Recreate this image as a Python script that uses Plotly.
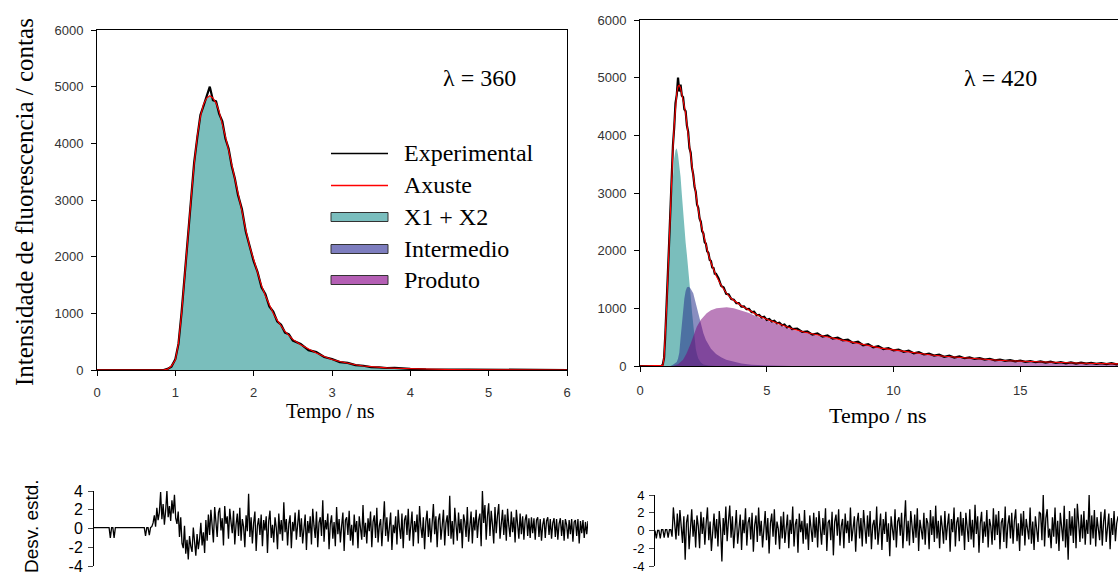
import plotly.graph_objects as go

W, H = 1118, 574

# ---------------- lambda = 360 nm decay ----------------
t360 = [0, 0.85, 0.90, 0.95, 1.00, 1.04, 1.08, 1.12, 1.16, 1.20, 1.24, 1.28, 1.32, 1.36,
        1.40, 1.44, 1.48, 1.52, 1.56, 1.60, 1.64, 1.68, 1.72, 1.76, 1.80, 1.85, 1.90,
        1.95, 2.00, 2.05, 2.10, 2.15, 2.20, 2.25, 2.30, 2.35, 2.40, 2.45, 2.50, 2.60,
        2.70, 2.80, 2.90, 3.00, 3.10, 3.20, 3.30, 3.40, 3.50, 3.60, 3.70, 3.80, 3.90,
        4.00, 4.20, 4.50, 5.00, 6.00]
fit360 = [0, 0, 15, 70, 175, 475, 1000, 1710, 2300, 3010, 3630, 4130, 4470, 4690,
          4800, 4840, 4800, 4710, 4560, 4360, 4120, 3880, 3640, 3350, 3130, 2810, 2470,
          2175, 1950, 1700, 1490, 1310, 1150, 1000, 880, 780, 680, 610, 540, 445,
          365, 300, 240, 185, 150, 118, 92, 70, 55, 45, 38, 32, 27,
          22, 15, 8, 3, 0]
exp360 = [0, 0, 20, 60, 190, 460, 1020, 1690, 2330, 2980, 3660, 4100, 4500, 4660,
          4830, 5000, 4760, 4740, 4520, 4390, 4080, 3910, 3600, 3380, 3090, 2840, 2440,
          2200, 1920, 1730, 1460, 1340, 1120, 1030, 860, 800, 660, 630, 520, 460,
          350, 315, 230, 195, 140, 125, 85, 75, 50, 48, 35, 36, 24,
          20, 12, 8, 2, 0]
x12_360 = [0, 0, 15, 70, 175, 475, 1000, 1710, 2300, 3010, 3630, 4130, 4470, 4690,
           4800, 4840, 4800, 4710, 4560, 4360, 4120, 3880, 3640, 3350, 3130, 2810, 2470,
           2175, 1950, 1700, 1490, 1310, 1150, 1000, 880, 780, 680, 610, 540, 445,
           365, 300, 240, 185, 150, 118, 92, 70, 55, 45, 38, 32, 27,
           22, 15, 8, 3, 0]
tc360 = [0, 6]
inter360 = [0, 0]
prod360 = [0, 0]

# ---------------- lambda = 420 nm decay ----------------
t420 = [0, 0.85, 0.90, 0.95, 1.00, 1.05, 1.10, 1.15, 1.20, 1.25, 1.30, 1.35, 1.40, 1.45,
        1.50, 1.55, 1.60, 1.65, 1.70, 1.75, 1.80, 1.85, 1.90, 1.95, 2.00, 2.10, 2.20,
        2.30, 2.40, 2.50, 2.60, 2.70, 2.80, 2.90, 3.00, 3.20, 3.40, 3.60, 3.80, 4.00,
        4.30, 4.60, 5.00, 5.50, 6.00, 6.50, 7.00, 7.50, 8.00, 8.50, 9.00, 9.50, 10.00,
        10.50, 11.00, 11.50, 12.00, 12.50, 13.00, 13.50, 14.00, 14.50, 15.00, 15.50,
        16.00, 16.50, 17.00, 17.50, 18.00, 18.50, 19.00]
fit420 = [0, 0, 10, 150, 520, 1030, 1580, 2180, 2760, 3300, 3780, 4180, 4500, 4730,
          4850, 4870, 4820, 4730, 4620, 4500, 4380, 4220, 4010, 3830, 3650, 3300, 2980,
          2700, 2470, 2270, 2090, 1930, 1790, 1670, 1570, 1400, 1270, 1170, 1100, 1045,
          970, 890, 810, 730, 645, 585, 540, 495, 450, 400, 350, 310, 280,
          248, 220, 192, 168, 150, 136, 120, 105, 92, 83, 74,
          66, 59, 53, 48, 43, 39, 35]

texp420 = [0, 0.85, 0.90, 0.95, 1.00, 1.05, 1.10, 1.15, 1.20, 1.25, 1.30, 1.35, 1.40,
           1.45, 1.50, 1.55, 1.60, 1.65, 1.70, 1.75, 1.80, 1.85, 1.90, 1.95, 2.00, 2.05,
           2.10, 2.15, 2.20, 2.25, 2.30, 2.35, 2.40, 2.45, 2.50, 2.55, 2.60, 2.65, 2.70,
           2.75, 2.80, 2.85, 2.90, 2.95, 3.00,
           3.1, 3.2, 3.3, 3.4, 3.5, 3.6, 3.7, 3.8, 3.9, 4.0, 4.1, 4.2, 4.3, 4.4, 4.5,
           4.6, 4.7, 4.8, 4.9, 5.0, 5.1, 5.2, 5.3, 5.4, 5.5, 5.6, 5.7, 5.8, 5.9, 6.0,
           6.2, 6.4, 6.6, 6.8, 7.0, 7.2, 7.4, 7.6, 7.8, 8.0, 8.2, 8.4, 8.6, 8.8, 9.0,
           9.2, 9.4, 9.6, 9.8, 10.0, 10.2, 10.4, 10.6, 10.8, 11.0, 11.2, 11.4, 11.6,
           11.8, 12.0, 12.2, 12.4, 12.6, 12.8, 13.0, 13.2, 13.4, 13.6, 13.8, 14.0,
           14.2, 14.4, 14.6, 14.8, 15.0, 15.2, 15.4, 15.6, 15.8, 16.0, 16.2, 16.4,
           16.6, 16.8, 17.0, 17.2, 17.4, 17.6, 17.8, 18.0, 18.2, 18.4, 18.6, 18.8, 19.0]
exp420 = [0, 0, 25, 140, 560, 1000, 1620, 2150, 2790, 3270, 3830, 4140, 4560,
          4700, 5000, 4760, 4880, 4690, 4660, 4450, 4420, 4170, 4060, 3780, 3700, 3440,
          3320, 3110, 3020, 2800, 2740, 2560, 2500, 2340, 2300, 2150, 2120, 1990, 1960,
          1840, 1820, 1710, 1700, 1600, 1600,
          1520, 1390, 1360, 1250, 1240, 1160, 1150, 1090, 1090, 1030, 1035, 985, 990, 935, 940,
          880, 885, 840, 855, 800, 815, 770, 785, 740, 750, 705, 720, 670, 690, 640,
          650, 590, 600, 545, 565, 510, 530, 475, 490, 445, 455, 400, 420, 360, 380,
          325, 345, 295, 310, 270, 285, 245, 265, 220, 240, 200, 215, 180,
          195, 160, 178, 145, 165, 135, 150, 122, 135, 110, 125, 98,
          112, 88, 102, 80, 95, 72, 86, 65, 80, 58, 74, 52,
          68, 47, 62, 43, 58, 40, 54, 36, 51, 33, 48, 30, 45]

tx12_420 = [0, 0.90, 0.95, 1.00, 1.05, 1.10, 1.15, 1.20, 1.25, 1.30, 1.35, 1.40, 1.45,
            1.50, 1.55, 1.60, 1.65, 1.70, 1.75, 1.80, 1.85, 1.90, 1.95, 2.00, 2.05,
            2.10, 2.15, 2.20, 2.25, 2.30, 2.40, 2.50, 2.70, 3.00, 19.0]
x12_420 = [0, 0, 40, 250, 680, 1500, 2150, 2620, 3000, 3350, 3600, 3740, 3775,
           3660, 3480, 3280, 2980, 2650, 2370, 2140, 1930, 1720, 1500, 1210, 940,
           680, 460, 300, 200, 130, 60, 25, 8, 0, 0]

tint420 = [0, 1.20, 1.30, 1.40, 1.45, 1.50, 1.55, 1.60, 1.65, 1.70, 1.75, 1.80, 1.85,
           1.90, 1.95, 2.00, 2.05, 2.10, 2.20, 2.30, 2.40, 2.50, 2.60, 2.70, 2.80,
           3.00, 3.20, 3.40, 3.70, 4.00, 4.40, 5.00, 6.00, 19.0]
inter420 = [0, 0, 20, 50, 70, 130, 230, 480, 760, 1000, 1170, 1300, 1360,
            1375, 1365, 1340, 1300, 1260, 1090, 914, 740, 570, 450, 370, 300,
            210, 150, 110, 72, 45, 20, 8, 0, 0]

tprod420 = [0, 1.30, 1.50, 1.70, 1.84, 2.00, 2.24, 2.40, 2.63, 2.80, 3.02, 3.20, 3.42,
            3.70, 3.94, 4.30, 4.60, 5.00, 5.50, 6.00, 6.50, 7.00, 7.50, 8.00, 8.50,
            9.00, 9.50, 10.0, 10.5, 11.0, 11.5, 12.0, 12.5, 13.0, 13.5, 14.0, 14.5,
            15.0, 15.5, 16.0, 16.5, 17.0, 17.5, 18.0, 18.5, 19.0]
prod420 = [0, 0, 30, 110, 220, 390, 680, 800, 914, 965, 1000, 1013, 1018,
           1000, 970, 920, 860, 790, 712, 635, 575, 528, 485, 442, 393,
           344, 305, 275, 244, 216, 189, 165, 147, 133, 117, 103, 90,
           81, 72, 64, 57, 51, 46, 41, 37, 33]

# ---------------- weighted residuals (one value per channel) ----------------
res360 = [
    0.1, 0.1, 0.1, 0.1, 0.1, 0.1, 0.1, 0.1, 0.1, 0.1, 0.1, 0.1, 0.1, -1.0, 0.1, 0.1, -1.0, 0.1, 0.1, 0.1,
    0.1, 0.1, 0.1, 0.1, 0.1, 0.1, 0.1, 0.1, 0.1, 0.1, 0.1, 0.1, 0.1, 0.1, 0.1, 0.1, 0.1, 0.1, 0.1, 0.1,
    0.1, -0.8, 0.1, 0.1, -0.7, 0.1, 0.2,
    0.6, 1.4, 0.2, 2.2, 0.9, 1.7, 3.9, 1.0, 2.6, 0.4, 1.9, 4.0, 1.2, 2.4, 0.8, 3.0, 1.6, 3.6, 1.1, 0.5,
    1.8, -0.9, 1.2, -1.6, -2.1, 0.3, -2.7, -1.2, -3.3, -0.8, -1.9, -2.5, 0.1, -1.4, -2.9, -0.6, -2.2, -1.1, 0.6, -1.8,
    -0.4, -2.6, 0.9, -1.3, 1.5, -0.7, 2.0, 0.3, -1.5, 2.3, 0.8, -0.9, 1.7, 2.2, -0.2, 1.1, -1.8, 2.4, 0.5, 1.3,
    -1.1, 2.1, 0.7, -0.5, 1.9, -1.7, 0.4, 1.6, -0.8, 2.2, -1.3, 1.0, 0.2, -2.0, 1.4, -0.3, 3.7, -0.9, 1.2, -1.6,
    0.6, 1.8, -2.4, 0.3, 1.1, -0.7, 1.5, -1.9, 0.9, -0.2, 1.3, -2.6, 0.8, 1.9, -1.0, 0.4, -1.5, 1.2, 0.1, -2.2,
    1.6, -0.6, 0.9, -1.3, 2.8, -0.4, 1.0, -1.8, 0.5, 1.4, -2.1, 0.7, -0.3, 1.7, -1.2, 0.2, 2.0, -0.9, 1.1, -1.6,
    0.4, 1.5, -2.3, 0.8, -0.5, 1.3, -1.7, 2.1, 0.3, -1.0, 1.8, -2.0, 0.6, 1.2, -0.8, 3.0, -1.4, 0.9, -0.1, 1.6,
    -2.2, 0.5, 1.4, -1.1, 0.7, -1.9, 2.3, -0.6, 1.0, -1.5, 0.3, 1.7, -2.4, 0.9, 1.2, -0.7, 1.9, -1.3, 0.4, -1.8,
    1.5, -0.4, 0.8, -2.1, 1.3, 0.2, -1.2, 2.5, -0.9, 0.6, -1.6, 1.1, -0.3, 1.8, -2.0, 0.7, 1.4, -1.0, 2.2, -1.5,
    0.3, 1.0, -1.9, 0.5, 2.9, -0.8, 1.2, -1.4, 0.6, 1.7, -2.3, 0.4, -0.5, 1.3, -1.7, 2.0, 0.1, -1.1, 1.6, -2.1,
    0.9, 1.4, -0.7, 2.1, -1.3, 0.5, 1.8, -1.9, 0.8, -0.4, 1.5, -1.6, 2.4, 0.2, -1.0, 1.2, -2.2, 0.7, 1.9, -0.9,
    1.1, -1.5, 0.4, 2.6, -0.6, 1.3, -2.0, 0.9, 1.6, -1.2, 0.3, 2.0, -1.8, 0.6, 1.4, -0.8, 3.5, -1.1, 0.8, -1.7,
    2.2, 0.4, -1.3, 1.7, -0.5, 1.0, -2.1, 1.5, 0.7, -0.9, 2.3, -1.4, 0.5, 1.8, -1.6, 1.2, -0.2, 2.0, -1.0, 0.9,
    1.6, -1.9, 4.0, 0.6, 2.5, -1.2, 1.3, 2.7, -0.8, 1.9, 0.4, -1.6, 2.3, -0.5, 1.4, 2.6, -1.1, 0.8, 2.0, -0.7,
    1.5, -1.3, 2.1, 0.3, -0.9, 1.8, -0.4, 1.2, -1.5, 2.0, 0.6, -1.1, 1.6, -0.6, 1.3, -1.2, 0.9, 1.5, -0.8, 1.1,
    -1.0, 1.2, -0.5, 1.1, -1.2, 0.9, 1.2, -0.9, 1.0, -1.3, 0.4, 1.1, -1.0, 0.8, 1.2, -0.7, 1.0, -1.1, 0.6, 1.1,
    -0.9, 1.0, -1.2, 0.5, 1.1, -0.8, 0.9, -1.3, 1.0, 0.4, -1.1, 0.9, -0.6, 1.0, -1.4, 0.7, 0.9, -0.8, 1.0, -1.6,
    0.8, -0.5, 0.9, -1.0, 0.7, -0.6, 0.8]

res420 = [
    0.0, -0.9, 0.0, 0.0, -0.9, 0.1, 0.1, -0.8, 0.1, 0.1, -0.8, 0.1, 0.1, -0.7,
    2.6, 0.8, -1.0, 1.9, -0.6, 2.3, 0.4, -1.4, 1.6, -3.3, 0.9, 1.8, -2.1, 0.3, 2.4, -0.7, 1.2, -1.9, 1.7, 0.5,
    -2.0, 2.1, -0.4, 1.5, -1.6, 0.8, 2.6, -1.1, 1.0, -2.3, 0.6, 1.9, -0.9, 1.3, -1.8, 2.2, 0.2, -3.5, 1.4, -0.5,
    2.7, -1.2, 1.1, 2.8, -0.8, 1.6, -2.0, 0.7, 2.3, -1.5, 0.4, 1.8, -2.2, 1.2, -0.3, 2.5, -1.7, 0.9, 1.5, -1.0,
    2.0, -2.4, 0.6, 1.7, -1.3, 2.6, -0.6, 1.1, -1.9, 0.3, 2.2, -1.1, 1.4, -2.6, 0.8, 1.9, -0.7, 2.4, -1.6, 1.0,
    0.2, -2.1, 1.6, -0.9, 2.1, -1.4, 0.5, 1.8, -2.0, 1.2, -0.4, 2.7, -1.8, 0.7, 1.3, -2.5, 1.9, -0.2, 1.1, -1.5,
    2.3, -1.0, 0.8, -2.2, 1.7, 0.4, -1.3, 2.0, -0.8, 1.5, -1.9, 2.2, 0.1, -1.6, 1.4, -0.5, 2.5, -2.3, 0.9, 1.2,
    -1.1, 2.1, -2.8, 1.0, 1.8, -0.6, 2.4, -1.7, 0.5, 1.3, -2.0, 1.9, -0.3, 1.1, -1.4, 2.6, -1.2, 0.7, 1.6, -2.4,
    0.9, 2.0, -0.9, 1.4, -1.8, 2.3, 0.3, -1.5, 1.7, -0.7, 2.2, -2.1, 0.6, 1.2, -1.0, 2.7, -1.6, 0.4, 1.9, -2.2,
    1.3, -0.4, 2.1, -1.3, 0.8, -2.9, 1.6, 0.2, -1.1, 2.4, -1.9, 1.0, 1.5, -0.6, 2.0, -2.0, 0.7, 3.4, -1.2, 1.1,
    -1.7, 2.2, 0.5, -1.4, 1.8, -0.8, 2.5, -2.3, 1.2, 0.3, -1.0, 2.0, -1.6, 1.4, 0.8, -2.1, 2.3, -0.5, 1.6, -1.3,
    2.8, -0.9, 1.1, -2.0, 1.7, 0.4, -1.5, 2.2, -1.1, 0.6, 1.9, -2.4, 1.3, -0.2, 2.6, -1.8, 0.9, 1.5, -1.2, 2.1,
    -0.6, 1.4, -2.2, 2.0, 0.7, -1.3, 2.4, -1.0, 1.2, -1.9, 2.9, -0.4, 1.6, -2.5, 0.8, 2.1, -1.4, 1.0, -0.7, 2.3,
    -1.9, 1.3, 0.5, -1.6, 2.5, -1.1, 1.8, -0.5, 2.2, -2.1, 0.9, 1.4, -1.3, 2.7, -2.0, 0.6, 1.7, -0.9, 2.0, -1.5,
    1.1, 2.4, -1.2, 0.8, -2.3, 1.9, -0.6, 2.2, -1.7, 1.3, 0.2, -1.0, 2.6, -1.5, 1.0, -2.2, 1.6, 0.4, -1.3, 2.1,
    1.9, -1.1, 4.0, -1.8, 1.4, 2.4, -0.8, 0.2, -2.0, 1.5, -0.7, 2.6, -1.5, 1.1, -2.3, 2.0, 0.4, -1.2, 2.8, -1.9,
    1.3, -3.3, 2.2, -0.6, 1.6, -1.4, 2.5, -2.0, 3.0, 0.5, -1.3, 1.8, -0.9, 2.2, -1.6, 1.2, -0.4, 4.0, -1.6, 1.7,
    -0.9, 2.3, -1.8, 1.5, 0.3, -1.1, 2.1, -1.7, 1.0, 2.4, -1.3, 0.6, 1.9, -2.1, 1.4, -0.5, 2.2, -1.2, 0.8, 1.6]

legend_names = ["Experimental", "Axuste", "X1 + X2", "Intermedio", "Produto"]
y_ticks = [0, 1000, 2000, 3000, 4000, 5000, 6000]
res_ticks = [-4, -2, 0, 2, 4]
res_tick_text = ["-4", "-2", "0", "2", "4"]

# colours
C_EXP = "black"
C_FIT = "#ff0000"
C_X12 = "rgb(122,190,188)"
C_INT = "rgba(40,50,140,0.55)"
C_PRO = "rgba(120,0,120,0.5)"
SW_X12 = "rgb(122,190,190)"
SW_INT = "rgb(125,125,190)"
SW_PRO = "rgb(180,95,180)"

SERIF = "Liberation Serif"
SANS = "Liberation Sans"


def px(x):
    return x / W


def py(y):
    return 1 - y / H


fig = go.Figure()


def add_decay(t_exp, exp, t_fit, fit, comps, xa, ya):
    for tt, vv, col in comps:
        fig.add_trace(go.Scatter(x=tt, y=vv, mode="lines", fill="tozeroy",
                                 fillcolor=col, line=dict(width=0, color=col),
                                 xaxis=xa, yaxis=ya, showlegend=False, hoverinfo="skip"))
    fig.add_trace(go.Scatter(x=t_exp, y=exp, mode="lines", line=dict(color=C_EXP, width=2.2),
                             xaxis=xa, yaxis=ya, showlegend=False))
    fig.add_trace(go.Scatter(x=t_fit, y=fit, mode="lines", line=dict(color=C_FIT, width=1.1),
                             xaxis=xa, yaxis=ya, showlegend=False))


add_decay(t360, exp360, t360, fit360,
          [(t360, x12_360, C_X12), (tc360, inter360, C_INT), (tc360, prod360, C_PRO)],
          "x", "y")
add_decay(texp420, exp420, t420, fit420,
          [(tx12_420, x12_420, C_X12), (tint420, inter420, C_INT), (tprod420, prod420, C_PRO)],
          "x2", "y2")

fig.add_trace(go.Scatter(x=list(range(len(res360))), y=res360, mode="lines",
                         line=dict(color="black", width=1.3), xaxis="x3", yaxis="y3",
                         showlegend=False))
fig.add_trace(go.Scatter(x=list(range(len(res420))), y=res420, mode="lines",
                         line=dict(color="black", width=1.3), xaxis="x4", yaxis="y4",
                         showlegend=False))

tick_font = dict(family=SANS, size=13, color="#333")
axis_common = dict(showline=True, linecolor="black", linewidth=1, ticks="outside",
                   ticklen=5, tickcolor="black", showgrid=False, zeroline=False,
                   tickfont=tick_font, automargin=False, ticklabeloverflow="allow")
res_axis = dict(range=[-4, 4], tickvals=res_ticks, ticktext=res_tick_text,
                showline=True, linecolor="black", linewidth=1, ticks="outside",
                ticklen=5, showgrid=False, zeroline=False, automargin=False,
                ticklabelstandoff=2, ticklabeloverflow="allow")

fig.update_layout(
    width=W, height=H,
    margin=dict(l=0, r=0, t=0, b=0, autoexpand=False),
    paper_bgcolor="white", plot_bgcolor="white",
    showlegend=False,
    xaxis=dict(domain=[px(97), px(567)], range=[0, 6], dtick=1, mirror=True,
               anchor="y", ticklabelstandoff=5, **axis_common),
    yaxis=dict(domain=[py(370), py(30)], range=[0, 6000], tickvals=y_ticks, mirror=True,
               anchor="x", ticklabelstandoff=5, **axis_common),
    xaxis2=dict(domain=[px(640), 1], range=[0, (1118 - 640) / 25.35], dtick=5, mirror=True,
                anchor="y2", ticklabelstandoff=7, **axis_common),
    yaxis2=dict(domain=[py(366), py(20)], range=[0, 6000], tickvals=y_ticks,
                anchor="x2", ticklabelstandoff=5, **axis_common),
    xaxis3=dict(domain=[px(94), px(588)], range=[0, len(res360) - 1], visible=False,
                anchor="y3", automargin=False),
    yaxis3=dict(domain=[py(566), py(491)], anchor="x3",
                tickfont=dict(family=SANS, size=16, color="black"), **res_axis),
    xaxis4=dict(domain=[px(655), 1], range=[0, len(res420) - 1], visible=False,
                anchor="y4", automargin=False),
    yaxis4=dict(domain=[py(566), py(495)], anchor="x4",
                tickfont=dict(family=SANS, size=13, color="black"), **res_axis),
)

ann = []
ann.append(dict(text="Intensidade de fluorescencia / contas", x=px(24), y=py(202),
                textangle=-90, font=dict(family=SERIF, size=25, color="black")))
ann.append(dict(text="Tempo / ns", x=px(330), y=py(411),
                font=dict(family=SERIF, size=20, color="black")))
ann.append(dict(text="Tempo / ns", x=px(877), y=py(415),
                font=dict(family=SERIF, size=22, color="black")))
ann.append(dict(text="λ = 360", x=px(479), y=py(78),
                font=dict(family=SERIF, size=24, color="black")))
ann.append(dict(text="λ = 420", x=px(1000), y=py(78),
                font=dict(family=SERIF, size=24, color="black")))
ann.append(dict(text="Desv. estd.", x=px(31), y=py(526), textangle=-90,
                font=dict(family=SANS, size=19, color="black")))

# legend block
leg_y = [153, 185, 217, 249, 280]
for name, yy in zip(legend_names, leg_y):
    ann.append(dict(text=name, x=px(402), y=py(yy), xanchor="left",
                    font=dict(family=SERIF, size=24, color="black")))
for a in ann:
    a.update(xref="paper", yref="paper", showarrow=False, yanchor="middle")
    a.setdefault("xanchor", "center")
fig.update_layout(annotations=ann)

shapes = [
    dict(type="line", x0=px(331), x1=px(388), y0=py(leg_y[0] + 0.5), y1=py(leg_y[0] + 0.5),
         line=dict(color=C_EXP, width=1.3)),
    dict(type="line", x0=px(331), x1=px(388), y0=py(leg_y[1] + 0.5), y1=py(leg_y[1] + 0.5),
         line=dict(color=C_FIT, width=1.3)),
]
for yy, col in zip(leg_y[2:], [SW_X12, SW_INT, SW_PRO]):
    shapes.append(dict(type="rect", x0=px(331), x1=px(388), y0=py(yy + 4.5), y1=py(yy - 4.5),
                       fillcolor=col, line=dict(color="#333", width=1)))
for s in shapes:
    s.update(xref="paper", yref="paper")
fig.update_layout(shapes=shapes)

fig.write_html("out.html")
